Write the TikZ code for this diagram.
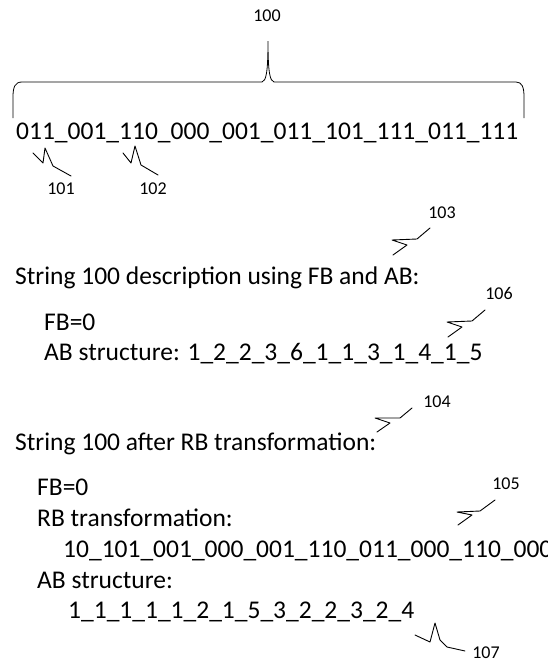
\documentclass[tikz,border=0pt]{standalone}
\usepackage{fontspec}
\setmainfont{Carlito}
\usepackage{tikz}
\usetikzlibrary{positioning}
\tikzset{
  txt/.style={anchor=base west,inner sep=0pt,font=\fontsize{25.5}{30}\selectfont},
  ref/.style={inner sep=0pt,font=\fontsize{18}{20}\selectfont},
  lead/.style={line width=0.9pt,line join=round,line cap=round},
}
\begin{document}
\begin{tikzpicture}[x=1pt,y=-1pt]
  \useasboundingbox (0,0) rectangle (548,664);
  % top string and its brace
  \node[ref] (lbl100) at (267,16) {100};
  \node[txt] (str100) at (16,139) {011\_001\_110\_000\_001\_011\_101\_111\_011\_111};
  \draw[line width=0.8pt] (13,118) -- (13,97) .. controls (13,87) and (15,82) .. (22,82)
    -- (262,82) .. controls (266,81) and (268,73) .. (268,41)
    .. controls (268,73) and (270,81) .. (274,82) -- (516,82)
    .. controls (522,82) and (524,87) .. (524,97) -- (524,118);
  \node[ref] (lbl101) at (61,189) {101};
  \node[ref] (lbl102) at (153,189) {102};
  \coordinate (s101) at (33,153);
  \coordinate (s102) at (123,153);
  \draw[lead] (s101) -- ++(10,10) -- ++(2,-15) -- ++(8,18) -- ++(18,10);
  \draw[lead] (s102) -- ++(8,10) -- ++(4,-17) -- ++(6,19) -- ++(17,10);
  % description with FB and AB
  \node[ref] (lbl103) at (442,213) {103};
  \coordinate (s103) at (430,228);
  \draw[lead] (s103) -- ++(-13,11) -- ++(-25,1) -- ++(15,5) -- ++(-14,10);
  \node[txt] (head1) at (15,284) {String 100 description using FB and AB:};
  \node[ref] (lbl106) at (499,293) {106};
  \coordinate (s106) at (485,310);
  \draw[lead] (s106) -- ++(-13,11) -- ++(-25,1) -- ++(15,5) -- ++(-14,10);
  \node[txt] (fb1) at (44,330) {FB=0};
  \node[txt] (ab1) at (44,360) {AB structure: 1\_2\_2\_3\_6\_1\_1\_3\_1\_4\_1\_5};
  % after RB transformation
  \node[ref] (lbl104) at (437,402) {104};
  \coordinate (s104) at (412,408);
  \draw[lead] (s104) -- ++(-12,10) -- ++(-25,0) -- ++(15,5) -- ++(-13,9);
  \node[txt] (head2) at (15,450) {String 100 after RB transformation:};
  \node[ref] (lbl105) at (506,484) {105};
  \coordinate (s105) at (495,500);
  \draw[lead] (s105) -- ++(-15,11) -- ++(-23,1) -- ++(15,3) -- ++(-14,10);
  \node[txt] (fb2) at (37,495) {FB=0};
  \node[txt] (rb2) at (37,526) {RB transformation:};
  \node[txt] (rbstr) at (63,557) {10\_101\_001\_000\_001\_110\_011\_000\_110\_000};
  \node[txt] (ab2) at (37,588) {AB structure:};
  \node[txt] (abstr) at (68,618) {1\_1\_1\_1\_1\_2\_1\_5\_3\_2\_2\_3\_2\_4};
  \node[ref] (lbl107) at (486,653) {107};
  \coordinate (s107) at (415,635);
  \draw[lead] (s107) -- ++(15,7) -- ++(5,-19) -- ++(5,17) -- ++(7,7) -- ++(18,4);
\end{tikzpicture}
\end{document}
